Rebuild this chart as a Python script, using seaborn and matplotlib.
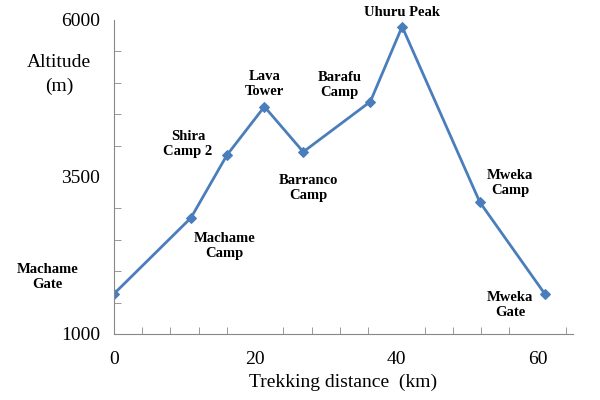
import numpy as np
import pandas as pd
import matplotlib
matplotlib.use("Agg")
import matplotlib.pyplot as plt
import seaborn as sns

camps = ["Machame\nGate", "Machame\nCamp", "Shira\nCamp 2", "Lava\nTower", "Barranco\nCamp",
         "Barafu\nCamp", "Uhuru Peak", "Mweka\nCamp", "Mweka\nGate"]
distance = [0, 10.9, 16.0, 21.3, 26.8, 36.3, 40.8, 51.8, 61.0]
altitude = [1640, 2850, 3850, 4620, 3900, 4700, 5895, 3100, 1640]

# label offsets in points (dx, dy)
offsets = [(-48, 12), (24, -20), (-28, 8), (0, 16), (4, -26), (-22, 12), (0, 10), (22, 14), (-25, -8)]

df = pd.DataFrame({"distance": distance, "altitude": altitude})

plt.rcParams["font.family"] = "Liberation Serif"
fig, ax = plt.subplots(figsize=(6, 4), dpi=100)
fig.subplots_adjust(left=0.19, right=0.955, top=0.95, bottom=0.165)

sns.lineplot(data=df, x="distance", y="altitude", ax=ax, color="#4a7ebb", lw=2,
             marker="D", markersize=5.5, markeredgecolor="#4a7ebb")

for name, x, y, (dx, dy) in zip(camps, distance, altitude, offsets):
    ax.annotate(name, (x, y), xytext=(dx, dy), textcoords="offset points",
                ha="center", va="center", fontsize=10.5, fontweight="bold")

ax.set_xlim(0, 65)
ax.set_ylim(1000, 6000)
ax.set_xticks(np.arange(0, 61, 20))
ax.set_xticks(np.arange(0, 65, 4), minor=True)
ax.set_yticks([1000, 3500, 6000])
ax.set_yticks(np.arange(1000, 6001, 500), minor=True)
ax.tick_params(axis="both", which="both", direction="in", labelsize=14, length=5, color="#888888")
ax.tick_params(axis="x", which="major", length=0, pad=12)
ax.tick_params(axis="y", which="major", length=0, pad=10)
for s in ["top", "right"]:
    ax.spines[s].set_visible(False)
for s in ["left", "bottom"]:
    ax.spines[s].set_color("#888888")

ax.set_xlabel("Trekking distance  (km)", fontsize=14)
ax.set_ylabel("Altitude\n(m)", fontsize=14, rotation=0, ha="center", linespacing=1.5)
ax.yaxis.set_label_coords(-0.12, 0.76)

fig.savefig("out.png", dpi=100)
